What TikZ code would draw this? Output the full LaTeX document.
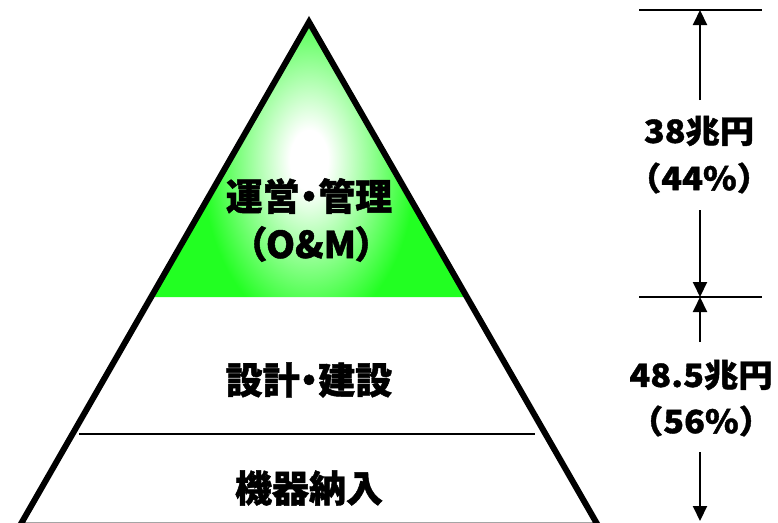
\documentclass[tikz,border=0pt]{standalone}
\usepackage{fontspec}
\usetikzlibrary{arrows.meta}
\newfontfamily\jp{Noto Sans CJK JP}[FakeBold=1.2]
\newfontfamily\jpw{Noto Sans CJK JP}[FakeBold=1.2, FakeStretch=1.07]
\newfontfamily\jpp{Noto Sans CJK JP}[CharacterWidth=AlternateProportional, FakeBold=1.2]
\newcommand{\nakaguro}{{\jpp\bfseries ・}}
\definecolor{omgreen}{RGB}{34,255,34}
\pgfdeclareradialshading{omglow}{\pgfpoint{0bp}{0bp}}{color(0bp)=(white); color(3bp)=(white); color(17bp)=(omgreen); color(50bp)=(omgreen)}
\tikzset{
  pyr/.style={line width=6pt, line join=miter},
  divider/.style={line width=2.5pt},
  dimline/.style={line width=1.5pt},
  dimarrow/.style={line width=2pt, -{Triangle[width=14pt,length=15pt]}},
  biglabel/.style={font=\jp\bfseries\fontsize{37}{42}\selectfont, inner sep=0pt},
  sidelabel/.style={font=\jpw\bfseries\fontsize{32}{36}\selectfont, inner sep=0pt},
}
\begin{document}
\begin{tikzpicture}[x=1pt,y=-1pt]
\useasboundingbox (0,0) rectangle (778,522);
% green top
\begin{scope}
  \clip (309,22) -- (151.15,297) -- (466.85,297) -- cycle;
  \shade[shading=omglow] (151,-90) rectangle (467,410);
\end{scope}
% pyramid outline
\coordinate (apex) at (309,22);
\coordinate (bl) at (20.0,525.5);
\coordinate (br) at (598.0,525.5);
\draw[pyr] (apex) -- (bl) -- (br) -- cycle;
% divider
\coordinate (dl) at (79,434);
\coordinate (dr) at (535,434);
\draw[divider] (dl) -- (dr);
% labels
\node[biglabel] (om1) at (309,196) {運営\nakaguro 管理};
\node[biglabel, font=\jpp\bfseries\fontsize{37}{42}\selectfont] (om2) at (311,244) {（O\&M）};
\node[biglabel] (des) at (309,380) {設計\nakaguro 建設};
\node[biglabel] (equ) at (309,488) {機器納入};
% dimension lines
\coordinate (t0) at (639,10);
\coordinate (t1) at (762,10);
\coordinate (m0) at (639,297);
\coordinate (m1) at (762,297);
\draw[dimline] (t0) -- (t1);
\draw[dimline] (m0) -- (m1);
\coordinate (top) at (700,10);
\coordinate (mid) at (700,297);
\coordinate (bot) at (700,521);
\node[sidelabel] (v1) at (699,131) {38兆円};
\node[sidelabel] (p1) at (699,178) {（44\%）};
\node[sidelabel] (v2) at (701,375) {48.5兆円};
\node[sidelabel] (p2) at (701,421) {（56\%）};
\coordinate (a1) at (700,100);
\coordinate (a2) at (700,210);
\coordinate (a3) at (700,342);
\coordinate (a4) at (700,452);
\draw[dimarrow] (a1) -- (top);
\draw[dimarrow] (a2) -- (mid);
\draw[dimarrow] (a3) -- (mid);
\draw[dimarrow] (a4) -- (bot);
\end{tikzpicture}
\end{document}
